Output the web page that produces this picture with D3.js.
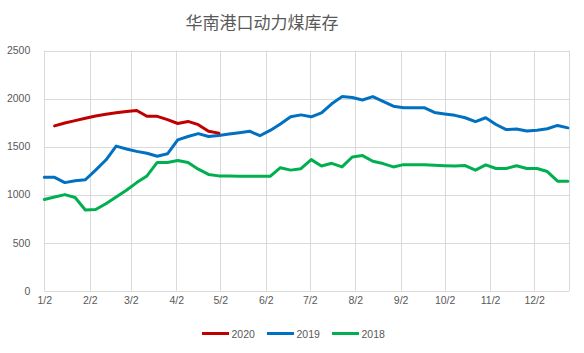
<!DOCTYPE html>
<html><head><meta charset="utf-8">
<script src="https://cdn.jsdelivr.net/npm/d3@7"></script>
<style>body{margin:0;background:#fff}svg{display:block}</style>
</head><body>
<div id="chart"></div>
<script>
const title = "华南港口动力煤库存";
const seriesNames = ["2020", "2019", "2018"];
const seriesColors = ["#C00000", "#0070C0", "#00B050"];
// weekly observations starting 1/2
const startDate = new Date(2019, 0, 2);
const endDate = new Date(2019, 11, 26);
const yTicks = [0, 500, 1000, 1500, 2000, 2500];
const s2020 = [null, 1715, 1745, 1770, 1795, 1818, 1837, 1852, 1865, 1876, 1815, 1815, 1780, 1740, 1762, 1728, 1660, 1640];
const s2019 = [1180, 1180, 1125, 1145, 1155, 1255, 1360, 1505, 1475, 1450, 1430, 1400, 1425, 1570, 1605, 1635, 1605, 1615,
  1630, 1645, 1660, 1613, 1668, 1735, 1810, 1830, 1810, 1850, 1945, 2020, 2010, 1985, 2020, 1970, 1920, 1905, 1905, 1905,
  1855, 1840, 1825, 1800, 1760, 1800, 1730, 1677, 1682, 1662, 1670, 1686, 1720, 1695];
const s2018 = [950, 976, 1000, 970, 840, 845, 905, 975, 1045, 1125, 1195, 1335, 1335, 1355, 1335, 1265, 1210, 1195,
  1195, 1190, 1190, 1190, 1190, 1280, 1255, 1270, 1364, 1298, 1326, 1288, 1392, 1406, 1347, 1323, 1288, 1312, 1312, 1310,
  1305, 1300, 1297, 1303, 1255, 1310, 1272, 1272, 1300, 1272, 1272, 1240, 1140, 1140];
const seriesData = [s2020, s2019, s2018];

const W = 584, H = 353;
const m = {left: 44.3, right: 584 - 569.3, top: 50.5, bottom: 353 - 290.7};
const svg = d3.select("#chart").append("svg").attr("width", W).attr("height", H);
const x = d3.scaleTime().domain([startDate, endDate]).range([m.left, W - m.right]);
const y = d3.scaleLinear().domain([0, 2500]).range([H - m.bottom, m.top]);
const dateOf = i => d3.timeDay.offset(startDate, 7 * i);
const monthTicks = d3.range(0, 12).map(k => new Date(2019, k, 2));

const grid = svg.append("g");
grid.selectAll("line.h").data(yTicks).join("line")
  .attr("x1", m.left).attr("x2", W - m.right)
  .attr("y1", d => Math.round(y(d)) + 0.5).attr("y2", d => Math.round(y(d)) + 0.5)
  .attr("stroke", "#d9d9d9").attr("stroke-width", 1);
grid.selectAll("line.v").data(monthTicks.concat([endDate])).join("line")
  .attr("x1", d => Math.round(x(d)) + 0.5).attr("x2", d => Math.round(x(d)) + 0.5)
  .attr("y1", y(2500)).attr("y2", y(0))
  .attr("stroke", "#d9d9d9").attr("stroke-width", 1);

const yAxis = d3.axisLeft(y).tickValues(yTicks).tickSize(0).tickPadding(14).tickFormat(d3.format("d"));
svg.append("g").attr("transform", `translate(${m.left},0)`).call(yAxis)
  .call(g => g.select(".domain").remove())
  .selectAll("text").attr("fill", "#595959").attr("font-size", "10.5px").attr("font-family", "Liberation Sans, Arial, sans-serif");

const xAxis = d3.axisBottom(x).tickValues(monthTicks).tickSize(0).tickPadding(6)
  .tickFormat(d => (d.getMonth() + 1) + "/" + d.getDate());
svg.append("g").attr("transform", `translate(0,${y(0)})`).call(xAxis)
  .call(g => g.select(".domain").remove())
  .selectAll("text").attr("fill", "#595959").attr("font-size", "10.5px").attr("font-family", "Liberation Sans, Arial, sans-serif");

const line = d3.line().defined(d => d != null).x((d, i) => x(dateOf(i))).y(d => y(d));
// draw 2018, 2019 then 2020 on top
[2, 1, 0].forEach(k => {
  svg.append("path").datum(seriesData[k]).attr("d", line)
    .attr("fill", "none").attr("stroke", seriesColors[k]).attr("stroke-width", 3)
    .attr("stroke-linejoin", "round").attr("stroke-linecap", "round");
});

svg.append("text").attr("x", 262).attr("y", 29).attr("text-anchor", "middle")
  .attr("font-family", "Noto Sans CJK SC, sans-serif").attr("font-size", "17px").attr("fill", "#595959")
  .text(title);

const legendX = [202, 267, 332];
const lg = svg.append("g");
seriesNames.forEach((n, k) => {
  lg.append("line").attr("x1", legendX[k]).attr("x2", legendX[k] + 27).attr("y1", 333.5).attr("y2", 333.5)
    .attr("stroke", seriesColors[k]).attr("stroke-width", 3);
  lg.append("text").attr("x", legendX[k] + 29.5).attr("y", 337.5)
    .attr("font-family", "Liberation Sans, Arial, sans-serif").attr("font-size", "10.5px").attr("fill", "#595959").text(n);
});
</script>
</body></html>
